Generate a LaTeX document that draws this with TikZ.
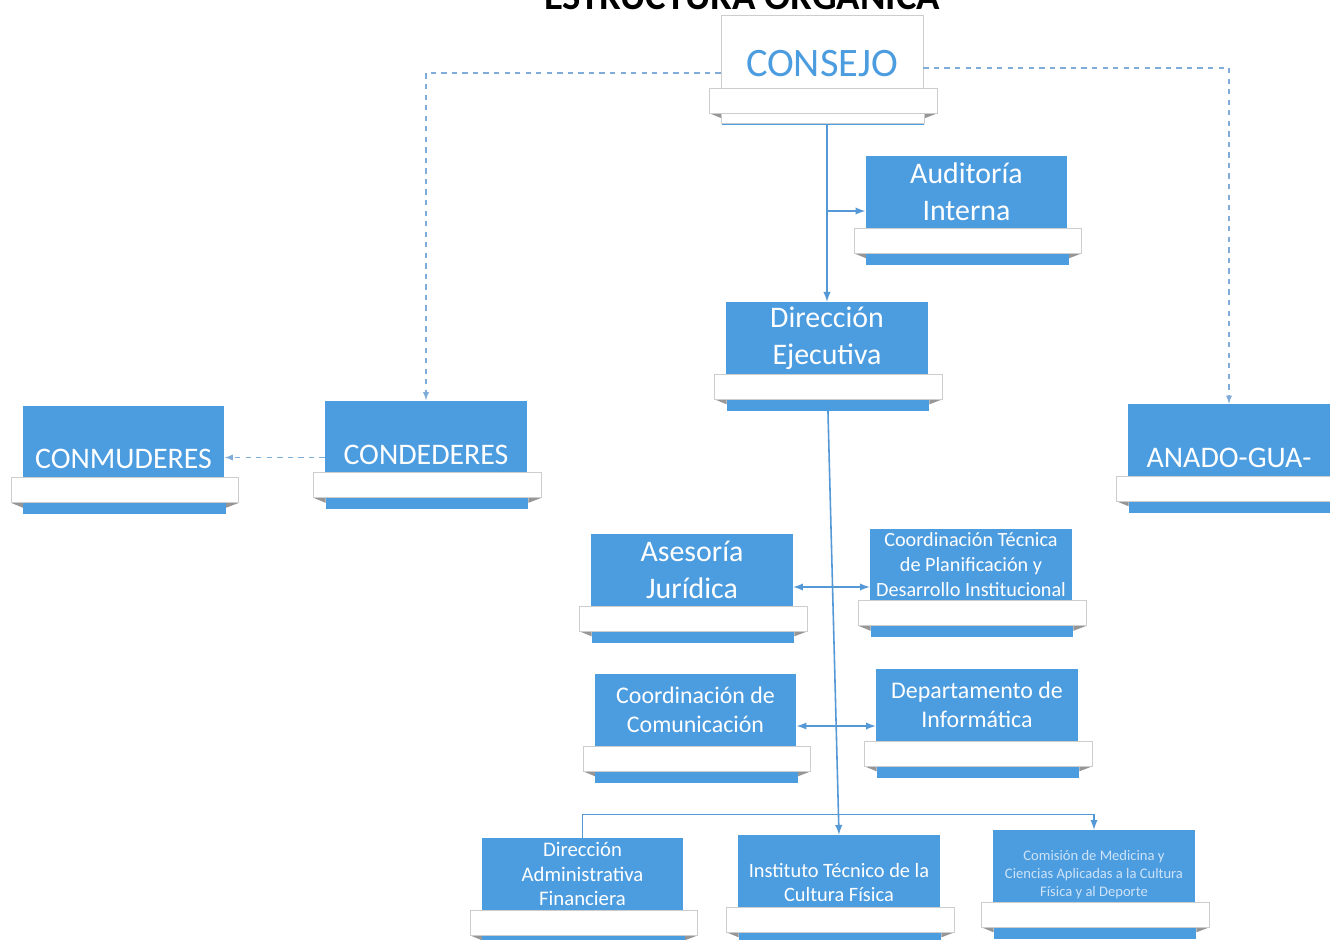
\documentclass[tikz,border=0pt]{standalone}
\usepackage{fontspec}
\setmainfont{Carlito}
\definecolor{unitblue}{RGB}{76,156,224}
\definecolor{linkblue}{RGB}{84,152,214}
\definecolor{dashblue}{RGB}{128,172,218}
\definecolor{foldgray}{RGB}{150,150,150}
\definecolor{bandline}{RGB}{205,205,205}
\definecolor{fadetext}{RGB}{205,228,248}
\tikzset{
  unit/.style={shape=rectangle, fill=unitblue, text=white, minimum width=4.04cm, minimum height=1.44cm, inner sep=0pt, align=center},
  low/.style={text height=1.1cm, text depth=0pt},
  band/.style={draw=bandline, fill=white, line width=0.4pt},
  link/.style={draw=linkblue, line width=0.9pt},
  dlink/.style={draw=dashblue, line width=0.6pt, dashed},
  big/.style={font=\fontsize{17}{21}\selectfont},
}
\begin{document}
\begin{tikzpicture}[x=0.02cm, y=-0.02cm, >=latex]
\useasboundingbox (0,0) rectangle (1330,940);
\fill[white] (0,0) rectangle (1330,940);
\clip (0,0) rectangle (1330,940);
\node[font=\fontsize{22}{26}\selectfont\bfseries, anchor=base] (titulo) at (742,9) {ESTRUCTURA ORGÁNICA};
\node[unit, fill=white, draw=bandline, minimum height=1.46cm, text=unitblue, text height=1.0cm, text depth=0pt, font=\fontsize{23}{27}\selectfont] (consejo) at (822,51.5) {CONSEJO};
\node[unit, big] (auditoria) at (966.5,192) {Auditoría\\Interna};
\node[unit, big] (direccion) at (827,338) {Dirección\\Ejecutiva};
\node[unit, big, low] (conmuderes) at (123.5,441.5) {CONMUDERES};
\node[unit, big, low] (condederes) at (426,436.5) {CONDEDERES};
\node[unit, big, low] (anado) at (1229,440) {ANADO-GUA-};
\node[unit, big] (asesoria) at (692,570) {Asesoría\\Jurídica};
\node[unit, font=\fontsize{11.5}{14.2}\selectfont] (planificacion) at (971,564.5) {Coordinación Técnica\\de Planificación y\\Desarrollo Institucional};
\node[unit, font=\fontsize{13.6}{16.5}\selectfont] (comunicacion) at (695.5,710) {Coordinación de\\Comunicación};
\node[unit, font=\fontsize{13.6}{16.5}\selectfont] (informatica) at (977,705) {Departamento de\\Informática};
\node[unit, font=\fontsize{11.8}{13.7}\selectfont] (administrativa) at (582.5,874) {Dirección\\Administrativa\\Financiera};
\node[unit, font=\fontsize{11.6}{13.7}\selectfont] (instituto) at (839,871) {\rule{0pt}{21pt}Instituto Técnico de la\\Cultura Física};
\node[unit, text=fadetext, font=\fontsize{8.3}{10.2}\selectfont] (comision) at (1094,866) {\rule{0pt}{16pt}Comisión de Medicina y\\Ciencias Aplicadas a la Cultura\\Física y al Deporte};
% lineas
\draw[link, ->] (direccion.north |- consejo.south) -- (direccion.north);
\coordinate (aud) at ([yshift=-0.38cm]auditoria.west);
\draw[link, ->] (direccion.north |- aud) -- (aud);
\draw[dlink, ->] ([yshift=-0.43cm]consejo.west) -| (condederes.north);
\draw[dlink, ->] ([yshift=-0.33cm]consejo.east) -| (anado.north);
\coordinate (cond) at ([yshift=-0.42cm]condederes.west);
\draw[dlink, ->] (cond) -- (cond -| conmuderes.east);
\draw[link, ->] (direccion.south) -- (instituto.north);
\coordinate (ases) at ([yshift=-0.34cm]asesoria.east);
\draw[link, <->] (ases) -- (ases -| planificacion.west);
\coordinate (comu) at ([yshift=-0.32cm]comunicacion.east);
\draw[link, <->] (comu) -- (comu -| informatica.west);
\draw[link, ->] (administrativa.north) -- ++(0,-23) -| (comision.north);
% cintas
\foreach \n in {consejo, auditoria, direccion, conmuderes, condederes, anado, asesoria, planificacion, comunicacion, informatica, administrativa, instituto, comision} {
  \fill[foldgray] ([xshift=-0.22cm,yshift=-0.5cm]\n.south west) -- ([xshift=0.02cm,yshift=-0.5cm]\n.south west) -- ([xshift=0.02cm,yshift=-0.6cm]\n.south west) -- cycle;
  \fill[foldgray] ([xshift=0.28cm,yshift=-0.5cm]\n.south east) -- ([xshift=0.02cm,yshift=-0.5cm]\n.south east) -- ([xshift=0.02cm,yshift=-0.6cm]\n.south east) -- cycle;
  \fill[unitblue] ([xshift=0.02cm,yshift=-0.5cm]\n.south west) rectangle ([xshift=0.02cm,yshift=-0.73cm]\n.south east);
  \draw[band] ([xshift=-0.22cm]\n.south west) rectangle ([xshift=0.28cm,yshift=-0.5cm]\n.south east);
}
\draw[band] ([xshift=0.02cm,yshift=-0.5cm]consejo.south west) rectangle ([xshift=0.02cm,yshift=-0.7cm]consejo.south east);
\end{tikzpicture}
\end{document}
